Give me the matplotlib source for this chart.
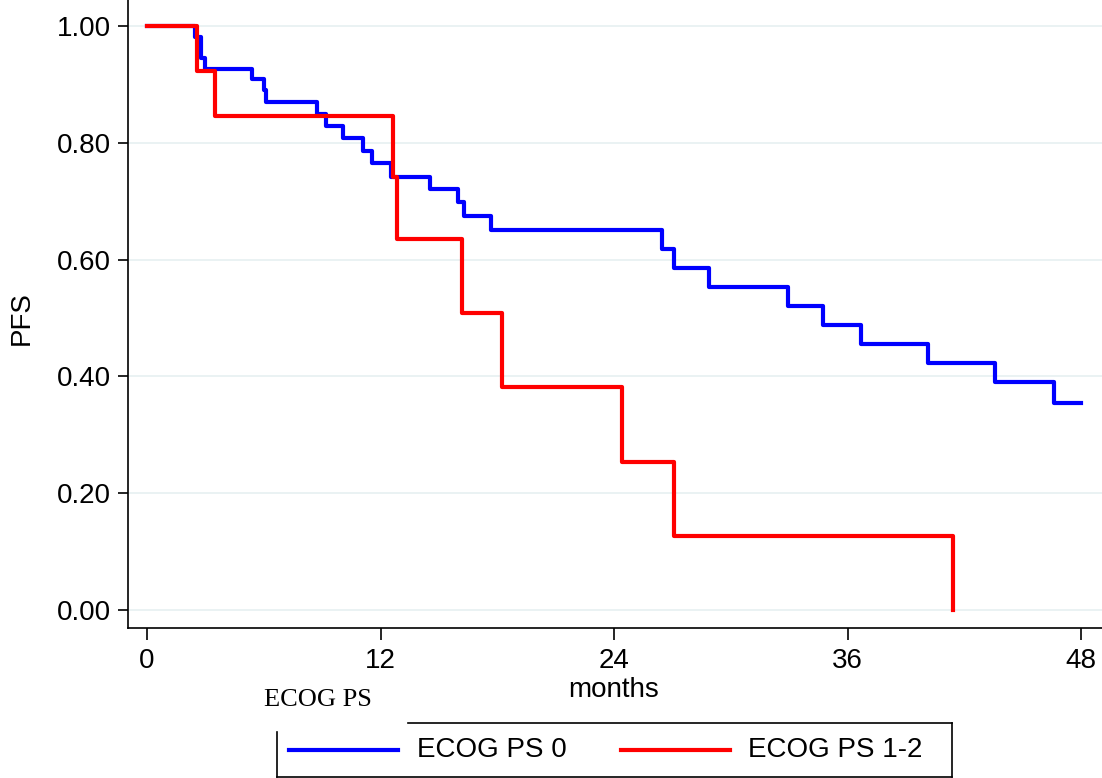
import matplotlib
matplotlib.use("Agg")
import matplotlib.pyplot as plt
from matplotlib.lines import Line2D

# Kaplan-Meier step values (months, PFS)
ps0_months = [0, 2.47, 2.78, 2.98, 5.38, 6.0, 6.1, 8.72, 9.2, 10.09, 11.12, 11.58,
              12.55, 14.54, 16.0, 16.29, 17.68, 26.48, 27.08, 28.89, 32.95, 34.75,
              36.69, 40.12, 43.58, 46.61, 48.0]
ps0_pfs = [1.0, 0.981, 0.946, 0.927, 0.909, 0.891, 0.870, 0.849, 0.829, 0.809, 0.786,
           0.766, 0.742, 0.721, 0.698, 0.675, 0.651, 0.618, 0.585, 0.553, 0.520, 0.488,
           0.455, 0.423, 0.390, 0.355, 0.355]

ps12_months = [0, 2.55, 3.51, 12.62, 12.87, 16.17, 18.26, 24.43, 27.1, 41.4]
ps12_pfs = [1.0, 0.923, 0.846, 0.742, 0.636, 0.508, 0.381, 0.254, 0.127, 0.0]

x_ticks = [0, 12, 24, 36, 48]
y_ticks = [0.0, 0.2, 0.4, 0.6, 0.8, 1.0]
series_labels = ["ECOG PS 0", "ECOG PS 1-2"]

W, H = 1102, 778
fig = plt.figure(figsize=(W / 100, H / 100), dpi=100)
ax = fig.add_axes([128 / W, 1 - 628 / H, (W - 128) / W, 628 / H])

px_per_month = (1081 - 147) / 48
ax.set_xlim(-(147 - 128) / px_per_month, (W - 147) / px_per_month)
px_per_unit = 610 - 26
ax.set_ylim(-(628 - 610) / px_per_unit, 1 + 26 / px_per_unit)

for y in y_ticks:
    ax.axhline(y, color="#eaf2f3", lw=1.4, zorder=0)

ax.step(ps0_months, ps0_pfs, where="post", color="#0000ff", lw=3, zorder=3)
ax.step(ps12_months, ps12_pfs, where="post", color="#ff0000", lw=3, zorder=4)

ax.spines["top"].set_visible(False)
ax.spines["right"].set_visible(False)
ax.spines["left"].set_linewidth(1.2)
ax.spines["bottom"].set_linewidth(1.2)

font = "Liberation Sans"
fs = 20
ax.set_xticks(x_ticks)
ax.set_xticklabels([str(t) for t in x_ticks], fontfamily=font, fontsize=fs)
ax.set_yticks(y_ticks)
ax.set_yticklabels([f"{v:.2f}" for v in y_ticks], fontfamily=font, fontsize=fs)
ax.tick_params(axis="x", length=8.5, width=1.2, pad=6)
ax.tick_params(axis="y", length=7.5, width=1.2, pad=5)

fig.text(22 / W, 1 - 318 / H, "PFS", rotation=90, ha="center", va="center",
         fontfamily=font, fontsize=fs)
fig.text(614 / W, 1 - 690 / H, "months", ha="center", va="center",
         fontfamily=font, fontsize=fs)
fig.text(318 / W, 1 - 700 / H, "ECOG PS", ha="center", va="center",
         fontfamily="Liberation Serif", fontsize=19)

# legend box drawn by hand (top edge leaves room for the title)
def fline(xs, ys, **kw):
    fig.add_artist(Line2D([x / W for x in xs], [1 - y / H for y in ys],
                          transform=fig.transFigure, **kw))

box = dict(color="black", lw=1.2)
fline([408, 952], [723, 723], **box)
fline([952, 952], [723, 777], **box)
fline([277, 952], [777, 777], **box)
fline([277, 277], [732, 777], **box)

fline([289, 398], [750, 750], color="#0000ff", lw=3)
fig.text(417 / W, 1 - 750 / H, series_labels[0], ha="left", va="center",
         fontfamily=font, fontsize=fs)
fline([621, 730], [750, 750], color="#ff0000", lw=3)
fig.text(748 / W, 1 - 750 / H, series_labels[1], ha="left", va="center",
         fontfamily=font, fontsize=fs)

fig.savefig("out.png", dpi=100)
